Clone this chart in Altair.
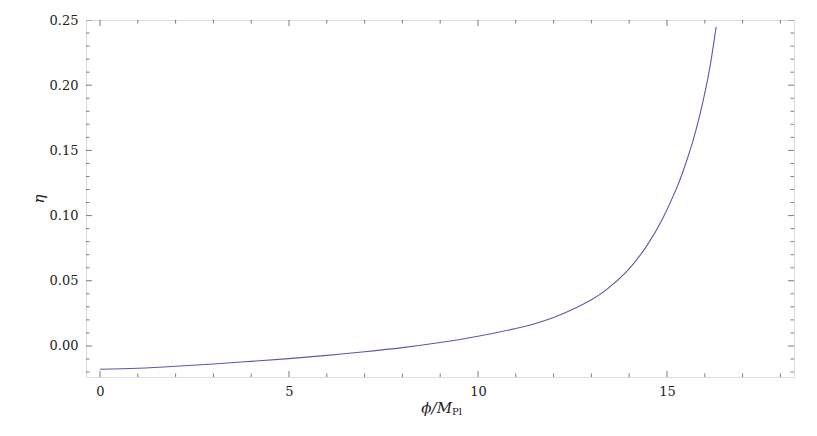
import altair as alt
import pandas as pd

# curve values
phi = [0, 1, 2, 3, 4, 5, 6, 7, 8, 9, 10, 11, 11.5, 12, 12.5, 13.0, 13.4,
       13.93, 14.46, 14.9, 15.25, 15.43, 15.7, 15.96, 16.15, 16.3]
eta = [-0.0179, -0.0171, -0.0156, -0.0138, -0.0118, -0.0097, -0.0072, -0.0044,
       -0.0013, 0.0026, 0.0074, 0.0134, 0.0171, 0.0219, 0.0279, 0.0354, 0.0432,
       0.0570, 0.0766, 0.0986, 0.1207, 0.1344, 0.1587, 0.1886, 0.2162, 0.2447]

x_major = [0, 5, 10, 15]
x_minor = [1, 2, 3, 4, 6, 7, 8, 9, 11, 12, 13, 14, 16, 17, 18]
y_major = [0.0, 0.05, 0.10, 0.15, 0.20, 0.25]
y_minor = [-0.02, -0.01, 0.01, 0.02, 0.03, 0.04, 0.06, 0.07, 0.08, 0.09,
           0.11, 0.12, 0.13, 0.14, 0.16, 0.17, 0.18, 0.19, 0.21, 0.22, 0.23, 0.24]

X_DOM = [-0.37, 18.36]
Y_DOM = [-0.0238, 0.25]

W, H = 708, 357
FRAME = "#444444"
LINE = "#5a5aa8"
FONT = "DejaVu Serif"

xs = alt.Scale(domain=X_DOM, nice=False, zero=False)
ys = alt.Scale(domain=Y_DOM, nice=False, zero=False)

curve_df = pd.DataFrame({"phi": phi, "eta": eta})

xaxis = alt.Axis(values=x_major, format="d", ticks=False, domain=False, grid=False,
                 labelFont=FONT, labelFontSize=13, labelColor="#222",
                 labelPadding=8, title=None)
yaxis = alt.Axis(values=y_major, format=".2f", ticks=False, domain=False, grid=False,
                 labelFont=FONT, labelFontSize=13, labelColor="#222",
                 labelPadding=8, title="η", titleFont=FONT, titleFontStyle="italic",
                 titleFontWeight="normal", titleFontSize=15, titleColor="#222",
                 titleAngle=-90, titleX=-48, titleY=H / 2, titleBaseline="middle",
                 titleAlign="center")

curve = alt.Chart(curve_df).mark_line(color=LINE, strokeWidth=1.1,
                                      interpolate="natural").encode(
    x=alt.X("phi:Q", scale=xs, axis=xaxis),
    y=alt.Y("eta:Q", scale=ys, axis=yaxis),
)

def xticks(vals, size):
    df = pd.DataFrame({"v": vals})
    layers = []
    for yv in Y_DOM:
        layers.append(alt.Chart(df).mark_tick(orient="vertical", size=size, thickness=1,
                                              color=FRAME, clip=True).encode(
            x=alt.X("v:Q", scale=xs), y=alt.datum(yv, scale=ys)))
    return layers

def yticks(vals, size):
    df = pd.DataFrame({"v": vals})
    layers = []
    for xv in X_DOM:
        layers.append(alt.Chart(df).mark_tick(orient="horizontal", size=size, thickness=1,
                                              color=FRAME, clip=True).encode(
            y=alt.Y("v:Q", scale=ys), x=alt.datum(xv, scale=xs)))
    return layers

ticks = (xticks(x_major, 12) + xticks(x_minor, 7) +
         yticks(y_major, 12) + yticks(y_minor, 7))

title_df = pd.DataFrame({"t": ["ϕ/M"]})
center_x = (X_DOM[0] + X_DOM[1]) / 2
t1 = alt.Chart(title_df).mark_text(font=FONT, fontSize=15, fontStyle="italic",
                                   color="#222", align="right", baseline="middle",
                                   dx=12, dy=31).encode(
    x=alt.datum(center_x, scale=xs), y=alt.datum(Y_DOM[0], scale=ys), text="t:N")
t2 = alt.Chart(pd.DataFrame({"t": ["Pl"]})).mark_text(font=FONT, fontSize=10,
                                   color="#222", align="left", baseline="middle",
                                   dx=12, dy=35).encode(
    x=alt.datum(center_x, scale=xs), y=alt.datum(Y_DOM[0], scale=ys), text="t:N")

chart = alt.layer(curve, *ticks, t1, t2).properties(
    width=W, height=H,
    autosize=alt.AutoSizeParams(type="none"),
    padding={"left": 78, "top": 12, "right": 15, "bottom": 51},
).configure_view(stroke=FRAME, strokeWidth=1).configure(background="white")

chart.save("out.html", embed_options={"renderer": "svg", "actions": False})
